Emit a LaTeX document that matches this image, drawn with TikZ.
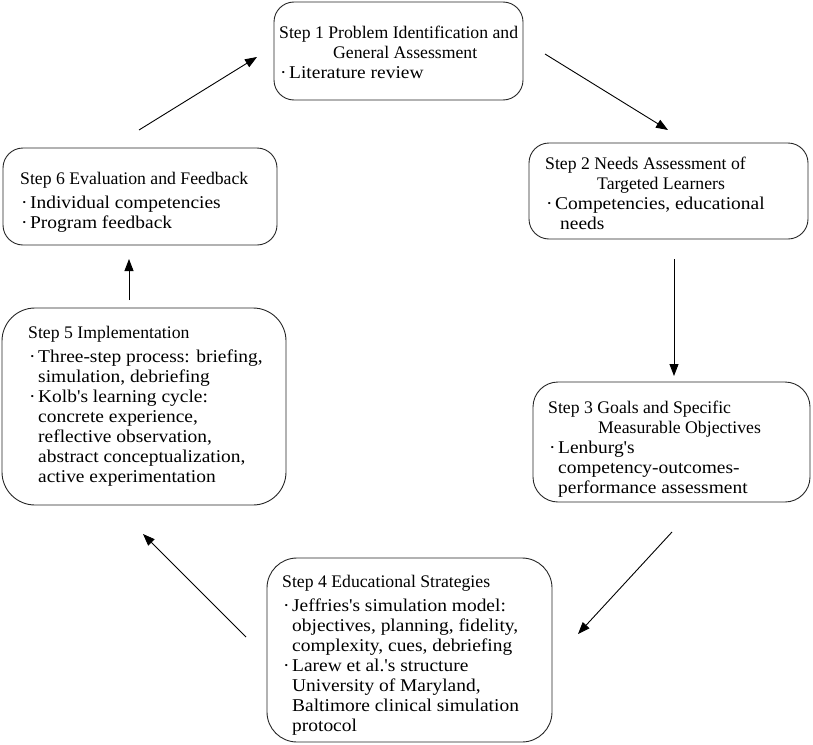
\documentclass[tikz,border=0pt]{standalone}
\usepackage{fontspec}
\setmainfont{Liberation Serif}
\newfontfamily\bodyfont[FakeStretch=1.08]{Liberation Serif}
\usetikzlibrary{arrows.meta}
\newcommand\T{\rmfamily\fontsize{17.7}{20}\selectfont}
\newcommand\B{\bodyfont\fontsize{18}{20}\selectfont}
\newcommand\fl{\rule{0pt}{13pt}}
\newcommand\bul{\hspace*{1pt}\makebox[9pt][l]{·}}
\newcommand\cont{\hspace*{10pt}}
\tikzset{
  stepbox/.style={draw=black!85, line width=0.9pt, inner sep=0pt},
  steptext/.style={anchor=north west, inner sep=0pt, align=left, font=\T},
  flow/.style={draw=black, line width=0.9pt, -{Triangle[length=12pt,width=9pt]}}
}
\begin{document}
\begin{tikzpicture}[x=1pt,y=-1pt]
\useasboundingbox (0,0) rectangle (813,744);
% boxes
\node[stepbox, minimum width=249pt, minimum height=98pt, rounded corners=20pt] (b1) at (398.5,51) {};
\node[stepbox, minimum width=279pt, minimum height=96pt, rounded corners=20pt] (b2) at (668.5,191) {};
\node[stepbox, minimum width=277pt, minimum height=120pt, rounded corners=25pt] (b3) at (671.5,442) {};
\node[stepbox, minimum width=285pt, minimum height=184pt, rounded corners=30pt] (b4) at (409.5,650) {};
\node[stepbox, minimum width=284pt, minimum height=197pt, rounded corners=33pt] (b5) at (144,406.5) {};
\node[stepbox, minimum width=274pt, minimum height=97pt, rounded corners=20pt] (b6) at (140,196.5) {};
% texts
\node[steptext] (t1) at (279,25) {\T\fl Step 1 Problem Identification and\\
\T\hspace*{54pt}General Assessment\\
\B\bul Literature review};
\node[steptext] (t2) at (545,156) {\T\fl Step 2 Needs Assessment of\\
\T\hspace*{52pt}Targeted Learners\\
\B\bul Competencies, educational\\
\B\hspace*{15pt}needs};
\node[steptext] (t3) at (548,400) {\T\fl Step 3 Goals and Specific\\
\T\hspace*{50pt}Measurable Objectives\\
\B\bul Lenburg's\\
\B\cont competency-outcomes-\\
\B\cont performance assessment};
\node[steptext] (t4) at (282,574) {\T\fl Step 4 Educational Strategies\\[4pt]
\B\bul Jeffries's simulation model:\\
\B\cont objectives, planning, fidelity,\\
\B\cont complexity, cues, debriefing\\
\B\bul Larew et al.'s structure\\
\B\cont University of Maryland,\\
\B\cont Baltimore clinical simulation\\
\B\cont protocol};
\node[steptext] (t5) at (28,325) {\T\fl Step 5 Implementation\\[4pt]
\B\bul Three-step process: briefing,\\
\B\cont simulation, debriefing\\
\B\bul Kolb's learning cycle:\\
\B\cont concrete experience,\\
\B\cont reflective observation,\\
\B\cont abstract conceptualization,\\
\B\cont active experimentation};
\node[steptext] (t6) at (20,171) {\T\fl Step 6 Evaluation and Feedback\\[4pt]
\B\bul Individual competencies\\
\B\bul Program feedback};
% arrow end points
\coordinate (a1s) at (139,130); \coordinate (a1e) at (257,57);
\coordinate (a2s) at (545,54);  \coordinate (a2e) at (668,130);
\coordinate (a3s) at (674,259); \coordinate (a3e) at (674,376);
\coordinate (a4s) at (672,532); \coordinate (a4e) at (578,634);
\coordinate (a5s) at (246,637); \coordinate (a5e) at (143,534);
\coordinate (a6s) at (129,300); \coordinate (a6e) at (129,259);
\draw[flow] (a1s) -- (a1e);
\draw[flow] (a2s) -- (a2e);
\draw[flow] (a3s) -- (a3e);
\draw[flow] (a4s) -- (a4e);
\draw[flow] (a5s) -- (a5e);
\draw[flow] (a6s) -- (a6e);
\end{tikzpicture}
\end{document}
